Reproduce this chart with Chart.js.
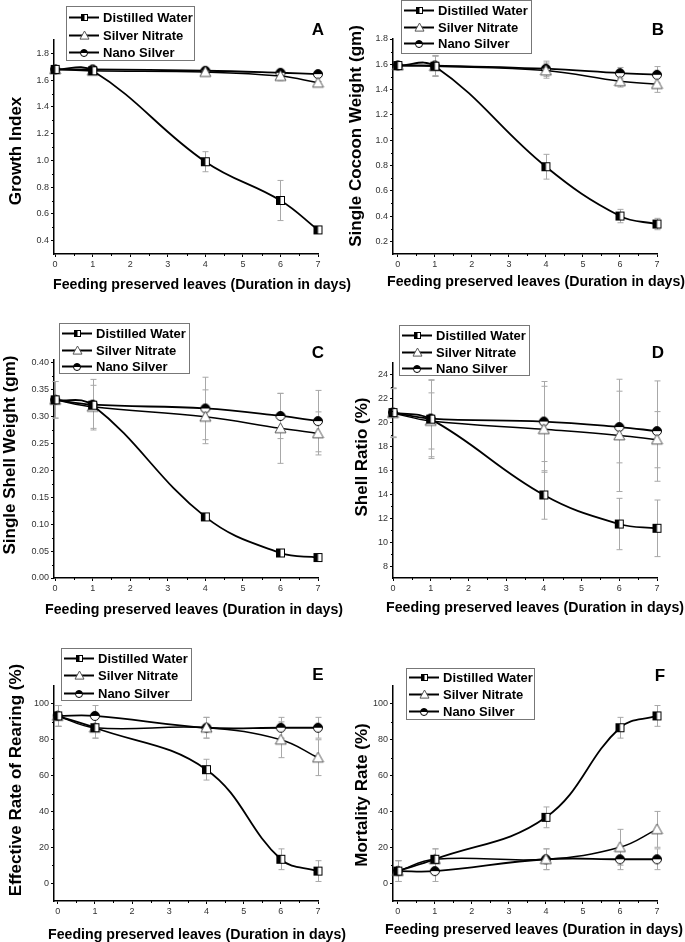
<!DOCTYPE html>
<html>
<head>
<meta charset="utf-8">
<script src="https://cdn.jsdelivr.net/npm/chart.js@4.4.0/dist/chart.umd.min.js"></script>
<style>
html, body { margin: 0; padding: 0; background: #fff; }
#wrap { position: relative; width: 685px; height: 942px; overflow: hidden; }
#wrap canvas { position: absolute; left: 0; top: 0; }
</style>
</head>
<body>
<div id="wrap">
  <canvas id="cA" width="685" height="942"></canvas>
  <canvas id="cB" width="685" height="942"></canvas>
  <canvas id="cC" width="685" height="942"></canvas>
  <canvas id="cD" width="685" height="942"></canvas>
  <canvas id="cE" width="685" height="942"></canvas>
  <canvas id="cF" width="685" height="942"></canvas>
</div>
<script>
// days the leaves were preserved
var days = [0, 1, 4, 6, 7];
var dayTicks = [0, 1, 2, 3, 4, 5, 6, 7];
var seriesNames = ['Distilled Water', 'Silver Nitrate', 'Nano Silver'];

// A - growth index
var growthWater = [1.68, 1.67, 0.99, 0.70, 0.48];
var growthWaterErr = [0.01, 0.01, 0.075, 0.15, 0.02];
var growthNitrate = [1.68, 1.67, 1.66, 1.63, 1.58];
var growthNitrateErr = [0.01, 0.01, 0.01, 0.035, 0.01];
var growthNano = [1.68, 1.68, 1.67, 1.655, 1.645];
var growthNanoErr = [0.01, 0.01, 0.01, 0.01, 0.01];
var growthTicks = [0.4, 0.6, 0.8, 1.0, 1.2, 1.4, 1.6, 1.8];

// B - single cocoon weight
var cocoonWater = [1.59, 1.585, 0.79, 0.40, 0.337];
var cocoonWaterErr = [0.02, 0.08, 0.098, 0.053, 0.045];
var cocoonNitrate = [1.59, 1.585, 1.55, 1.465, 1.443];
var cocoonNitrateErr = [0.02, 0.08, 0.06, 0.045, 0.065];
var cocoonNano = [1.59, 1.59, 1.565, 1.53, 1.517];
var cocoonNanoErr = [0.02, 0.08, 0.06, 0.045, 0.065];
var cocoonTicks = [0.2, 0.4, 0.6, 0.8, 1.0, 1.2, 1.4, 1.6, 1.8];

// C - single shell weight
var shellWater = [0.331, 0.321, 0.1135, 0.0465, 0.038];
var shellWaterErr = [0.004, 0.004, 0.006, 0.006, 0.006];
var shellNitrate = [0.331, 0.318, 0.2995, 0.278, 0.2686];
var shellNitrateErr = [0.034, 0.04, 0.05, 0.065, 0.04];
var shellNano = [0.331, 0.322, 0.315, 0.301, 0.2915];
var shellNanoErr = [0.034, 0.047, 0.058, 0.042, 0.057];
var shellTicks = [0.00, 0.05, 0.10, 0.15, 0.20, 0.25, 0.30, 0.35, 0.40];

// D - shell ratio
var ratioWater = [20.85, 20.3, 13.95, 11.52, 11.16];
var ratioWaterErr = [2.05, 3.3, 2.03, 2.15, 2.37];
var ratioNitrate = [20.8, 20.15, 19.45, 18.94, 18.58];
var ratioNitrateErr = [2.05, 2.35, 3.6, 4.7, 2.35];
var ratioNano = [20.85, 20.35, 20.1, 19.64, 19.3];
var ratioNanoErr = [2.05, 3.2, 3.35, 3.0, 4.2];
var ratioTicks = [8, 10, 12, 14, 16, 18, 20, 22, 24];

// E - effective rate of rearing
var rearingWater = [93.3, 86.7, 63.3, 13.3, 6.7];
var rearingWaterErr = [5.8, 5.8, 5.8, 5.8, 5.8];
var rearingNitrate = [93.3, 86.7, 86.7, 80, 70];
var rearingNitrateErr = [5.8, 5.8, 5.8, 10, 10];
var rearingNano = [93.3, 93.3, 86.7, 86.7, 86.7];
var rearingNanoErr = [5.8, 5.8, 5.8, 5.8, 5.8];
var percentTicks = [0, 20, 40, 60, 80, 100];

// F - mortality rate
var mortalityWater = [6.7, 13.3, 36.7, 86.7, 93.3];
var mortalityWaterErr = [5.8, 5.8, 5.8, 5.8, 5.8];
var mortalityNitrate = [6.7, 13.3, 13.3, 20, 30];
var mortalityNitrateErr = [5.8, 5.8, 5.8, 10, 10];
var mortalityNano = [6.7, 6.7, 13.3, 13.3, 13.3];
var mortalityNanoErr = [5.8, 5.8, 5.8, 5.8, 5.8];

var FONT = '"Liberation Sans", Arial, sans-serif';

// little canvases used as point styles
function makeMarker(kind, size) {
    var s = size + 2;
    var c = document.createElement('canvas');
    c.width = s; c.height = s;
    var g = c.getContext('2d');
    var m = s / 2, r = size / 2;
    g.lineWidth = 1;
    g.strokeStyle = '#000';
    if (kind == 'square') {
        g.fillStyle = '#fff';
        g.fillRect(m - r, m - r, size, size);
        g.fillStyle = '#000';
        g.fillRect(m - r, m - r, r, size);
        g.strokeRect(m - r + 0.5, m - r + 0.5, size - 1, size - 1);
    } else if (kind == 'triangle') {
        g.strokeStyle = '#555';
        g.fillStyle = '#fff';
        g.beginPath();
        g.moveTo(m, m - r);
        g.lineTo(m + r, m + r * 0.8);
        g.lineTo(m - r, m + r * 0.8);
        g.closePath();
        g.fill();
        g.stroke();
    } else {
        g.fillStyle = '#fff';
        g.beginPath(); g.arc(m, m, r - 0.5, 0, Math.PI * 2); g.fill();
        g.fillStyle = '#000';
        g.beginPath(); g.arc(m, m, r - 0.5, Math.PI, Math.PI * 2); g.closePath(); g.fill();
        g.beginPath(); g.arc(m, m, r - 0.5, 0, Math.PI * 2); g.stroke();
    }
    return c;
}
var markers = [makeMarker('square', 9), makeMarker('triangle', 11), makeMarker('circle', 10)];
var legendMarkers = [makeMarker('square', 7), makeMarker('triangle', 9), makeMarker('circle', 8)];

var errorBarPlugin = {
    id: 'errorBars',
    beforeDatasetsDraw: function (chart) {
        var ctx = chart.ctx, xs = chart.scales.x, ys = chart.scales.y;
        ctx.save();
        ctx.strokeStyle = '#a8a8a8';
        ctx.lineWidth = 1;
        chart.data.datasets.forEach(function (ds) {
            if (!ds.errors) return;
            ds.data.forEach(function (p, i) {
                var e = ds.errors[i];
                var x = Math.round(xs.getPixelForValue(p.x)) + 0.5;
                var y1 = ys.getPixelForValue(p.y + e), y2 = ys.getPixelForValue(p.y - e);
                ctx.beginPath();
                ctx.moveTo(x, y1); ctx.lineTo(x, y2);
                ctx.moveTo(x - 3, y1); ctx.lineTo(x + 3, y1);
                ctx.moveTo(x - 3, y2); ctx.lineTo(x + 3, y2);
                ctx.stroke();
            });
        });
        ctx.restore();
    }
};

var minorTickPlugin = {
    id: 'minorTicks',
    afterDraw: function (chart, args, opts) {
        var xs = chart.scales.x, ys = chart.scales.y, ctx = chart.ctx;
        ctx.save();
        ctx.strokeStyle = '#000';
        ctx.lineWidth = 1;
        ctx.beginPath();
        (opts.x || []).forEach(function (v) {
            var px = Math.round(xs.getPixelForValue(v)) + 0.5;
            ctx.moveTo(px, xs.top); ctx.lineTo(px, xs.top + 2);
        });
        (opts.y || []).forEach(function (v) {
            var py = Math.round(ys.getPixelForValue(v)) + 0.5;
            ctx.moveTo(ys.right, py); ctx.lineTo(ys.right - 2, py);
        });
        ctx.stroke();
        ctx.restore();
    }
};

var decorPlugin = {
    id: 'decor',
    afterDraw: function (chart, args, o) {
        var ctx = chart.ctx;
        ctx.save();
        // axis titles
        ctx.fillStyle = '#000';
        ctx.textBaseline = 'middle';
        ctx.font = 'bold 14.2px ' + FONT;
        ctx.textAlign = 'left';
        ctx.fillText(o.xTitle, o.xTitleX, o.xTitleY);
        ctx.save();
        ctx.translate(o.yTitleX, o.yTitleY);
        ctx.rotate(-Math.PI / 2);
        ctx.textAlign = 'center';
        ctx.font = 'bold 17px ' + FONT;
        ctx.fillText(o.yTitle, 0, 0);
        ctx.restore();
        // panel letter
        ctx.textAlign = 'center';
        ctx.font = 'bold 17px ' + FONT;
        ctx.fillText(o.letter, o.letterX, o.letterY);
        // boxed legend
        var L = o.legend;
        ctx.fillStyle = '#fff';
        ctx.fillRect(L.x, L.y, L.w, L.h);
        ctx.strokeStyle = '#777';
        ctx.lineWidth = 1;
        ctx.strokeRect(L.x + 0.5, L.y + 0.5, L.w, L.h);
        ctx.textAlign = 'left';
        ctx.font = 'bold 13px ' + FONT;
        chart.data.datasets.forEach(function (ds, i) {
            var ry = Math.round(L.y + L.first + i * L.gap) + 0.5;
            ctx.strokeStyle = '#000';
            ctx.lineWidth = 2;
            ctx.beginPath();
            ctx.moveTo(L.x + 3, ry); ctx.lineTo(L.x + 33, ry);
            ctx.stroke();
            var img = legendMarkers[i];
            ctx.drawImage(img, Math.round(L.x + 18 - img.width / 2), Math.round(ry - img.height / 2));
            ctx.fillStyle = '#000';
            ctx.fillText(ds.label, L.x + 37, ry + 0.5);
        });
        ctx.restore();
    }
};

function midpoints(list) {
    var out = [];
    for (var i = 0; i < list.length - 1; i++) out.push((list[i] + list[i + 1]) / 2);
    return out;
}

var panels = [
    { canvas: 'cA', letter: 'A', yTitle: 'Growth Index',
      values: [growthWater, growthNitrate, growthNano], errors: [growthWaterErr, growthNitrateErr, growthNanoErr],
      yTicks: growthTicks, yMin: 0.3, yMax: 1.9, digits: 1, xMin: -0.03,
      area: [54, 40, 318, 254], yTitleX: 16, yTitleY: 151, xTitleX: 53, xTitleY: 285, letterPos: [318, 30],
      legend: { x: 66, y: 6, w: 128, h: 54, first: 11, gap: 17.5 } },
    { canvas: 'cB', letter: 'B', yTitle: 'Single Cocoon Weight (gm)',
      values: [cocoonWater, cocoonNitrate, cocoonNano], errors: [cocoonWaterErr, cocoonNitrateErr, cocoonNanoErr],
      yTicks: cocoonTicks, yMin: 0.1, yMax: 1.8, digits: 1, xMin: -0.13,
      area: [393, 39, 657, 254], yTitleX: 356, yTitleY: 136, xTitleX: 387, xTitleY: 282, letterPos: [658, 30],
      legend: { x: 401, y: 0, w: 130, h: 53, first: 10, gap: 16.5 } },
    { canvas: 'cC', letter: 'C', yTitle: 'Single Shell Weight (gm)',
      values: [shellWater, shellNitrate, shellNano], errors: [shellWaterErr, shellNitrateErr, shellNanoErr],
      yTicks: shellTicks, yMin: 0, yMax: 0.405, digits: 2, xMin: -0.03,
      area: [54, 360, 318, 578], yTitleX: 10, yTitleY: 455, xTitleX: 45, xTitleY: 610, letterPos: [318, 353],
      legend: { x: 59, y: 323, w: 130, h: 50, first: 10, gap: 16.5 } },
    { canvas: 'cD', letter: 'D', yTitle: 'Shell Ratio (%)',
      values: [ratioWater, ratioNitrate, ratioNano], errors: [ratioWaterErr, ratioNitrateErr, ratioNanoErr],
      yTicks: ratioTicks, yMin: 7, yMax: 25, digits: 0, xMin: 0,
      area: [393, 363, 657, 578], yTitleX: 362, yTitleY: 457, xTitleX: 386, xTitleY: 608, letterPos: [658, 353],
      legend: { x: 399, y: 325, w: 130, h: 50, first: 10, gap: 16.5 } },
    { canvas: 'cE', letter: 'E', yTitle: 'Effective Rate of Rearing (%)',
      values: [rearingWater, rearingNitrate, rearingNano], errors: [rearingWaterErr, rearingNitrateErr, rearingNanoErr],
      yTicks: percentTicks, yMin: -10, yMax: 110, digits: 0, xMin: -0.1,
      area: [54, 686, 318, 901], yTitleX: 16, yTitleY: 780, xTitleX: 48, xTitleY: 935, letterPos: [318, 675],
      legend: { x: 61, y: 648, w: 130, h: 52, first: 9.5, gap: 17.5 } },
    { canvas: 'cF', letter: 'F', yTitle: 'Mortality Rate (%)',
      values: [mortalityWater, mortalityNitrate, mortalityNano], errors: [mortalityWaterErr, mortalityNitrateErr, mortalityNanoErr],
      yTicks: percentTicks, yMin: -10, yMax: 110, digits: 0, xMin: -0.13,
      area: [393, 686, 657, 901], yTitleX: 362, yTitleY: 795, xTitleX: 385, xTitleY: 930, letterPos: [660, 676],
      legend: { x: 406, y: 668, w: 128, h: 51, first: 8.5, gap: 17 } }
];

var Y_W = 40, X_H = 24;

panels.forEach(function (p) {
    var datasets = p.values.map(function (vals, i) {
        return {
            label: seriesNames[i],
            data: days.map(function (d, j) { return { x: d, y: vals[j] }; }),
            errors: p.errors[i],
            borderColor: '#000',
            borderWidth: i == 1 ? 1.5 : 1.8,
            pointStyle: markers[i],
            pointRadius: 5,
            pointHoverRadius: 5,
            tension: 0.4,
            fill: false,
            clip: false
        };
    });
    var ctx = document.getElementById(p.canvas).getContext('2d');
    new Chart(ctx, {
        type: 'line',
        data: { datasets: datasets },
        plugins: [errorBarPlugin, minorTickPlugin, decorPlugin],
        options: {
            responsive: false,
            animation: false,
            events: [],
            layout: {
                padding: {
                    left: p.area[0] - Y_W,
                    top: p.area[1],
                    right: 685 - p.area[2],
                    bottom: 942 - p.area[3] - X_H
                }
            },
            scales: {
                x: {
                    type: 'linear',
                    min: p.xMin,
                    max: 7,
                    afterFit: function (s) { s.height = X_H; },
                    afterBuildTicks: function (s) { s.ticks = dayTicks.map(function (v) { return { value: v }; }); },
                    grid: { drawOnChartArea: false, drawTicks: true, tickLength: 3, color: '#000', tickColor: '#000' },
                    border: { display: true, color: '#000', width: 1.5 },
                    ticks: { color: '#333', font: { family: FONT, size: 9 }, padding: 2, maxRotation: 0, autoSkip: false }
                },
                y: {
                    type: 'linear',
                    min: p.yMin,
                    max: p.yMax,
                    afterFit: function (s) { s.width = Y_W; },
                    afterBuildTicks: function (s) { s.ticks = p.yTicks.map(function (v) { return { value: v }; }); },
                    grid: { drawOnChartArea: false, drawTicks: true, tickLength: 3, color: '#000', tickColor: '#000' },
                    border: { display: true, color: '#000', width: 1.5 },
                    ticks: {
                        color: '#333', font: { family: FONT, size: 9 }, padding: 2, autoSkip: false,
                        callback: function (v) { return Number(v).toFixed(p.digits); }
                    }
                }
            },
            plugins: {
                legend: { display: false },
                tooltip: { enabled: false },
                minorTicks: { x: midpoints(dayTicks), y: midpoints(p.yTicks) },
                decor: {
                    xTitle: 'Feeding preserved leaves (Duration in days)',
                    xTitleX: p.xTitleX,
                    xTitleY: p.xTitleY,
                    yTitle: p.yTitle,
                    yTitleX: p.yTitleX,
                    yTitleY: p.yTitleY,
                    letter: p.letter,
                    letterX: p.letterPos[0],
                    letterY: p.letterPos[1],
                    legend: p.legend
                }
            }
        }
    });
});
</script>
</body>
</html>
